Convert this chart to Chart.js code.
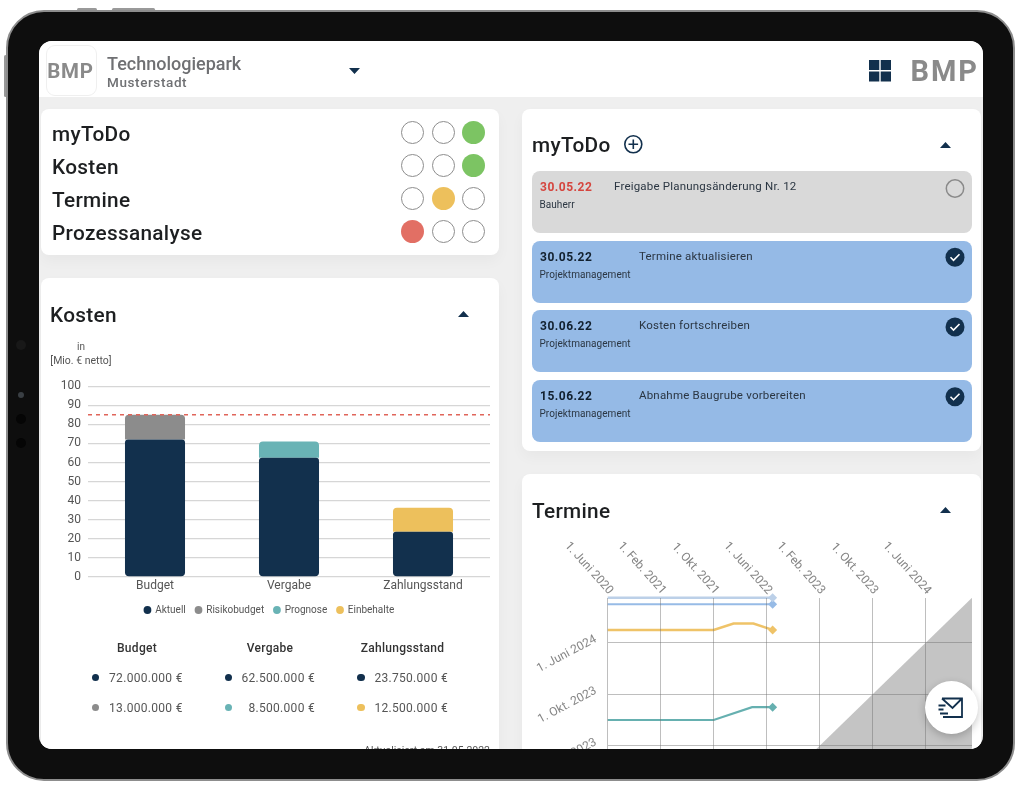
<!DOCTYPE html>
<html lang="de"><head><meta charset="utf-8"><title>Dashboard</title>
<script src="https://cdn.jsdelivr.net/npm/chart.js@4"></script>
<style>
html,body{margin:0;padding:0;background:#fff;width:1022px;height:791px;overflow:hidden;font-family:Roboto,sans-serif}
.a{position:absolute}
.t{position:absolute;white-space:nowrap;line-height:1}
#device{left:6px;top:10px;width:1005px;height:767px;border:2px solid #8d8d8d;border-radius:38px;background:#0e0e0e}
#screen{left:39px;top:41px;width:944px;height:708px;border-radius:13px 13px 13px 13px;overflow:hidden;background:#efefef}
#in{left:-39px;top:-41px;width:1022px;height:791px}
#texts{opacity:.999}
.panel{position:absolute;background:#fff;border-radius:8px;box-shadow:0 6px 14px rgba(0,0,0,.035)}
.card{position:absolute;left:532px;width:440px;height:62px;border-radius:8px}
.dot{position:absolute;border-radius:50%;box-sizing:border-box}
canvas{position:absolute;display:block}
</style></head><body>
<div class="a" style="left:77px;top:8px;width:20px;height:3px;background:#999;border-radius:2px"></div>
<div class="a" style="left:112px;top:8px;width:43px;height:3px;background:#999;border-radius:2px"></div>
<div class="a" style="left:4px;top:55px;width:3px;height:42px;background:#999;border-radius:2px"></div>
<div id="device" class="a"></div>
<div class="dot" style="left:18px;top:392px;width:6px;height:6px;background:#3a3f44"></div>
<div class="dot" style="left:16px;top:340px;width:10px;height:10px;background:#181818"></div>
<div class="dot" style="left:16px;top:414px;width:10px;height:10px;background:#050505"></div>
<div class="dot" style="left:16px;top:438px;width:10px;height:10px;background:#050505"></div>
<div id="screen" class="a"><div id="in" class="a">
  <div class="a" style="left:39px;top:41px;width:944px;height:56px;background:#fff"></div>
  <div class="a" style="left:46px;top:45px;width:49px;height:49px;border:1px solid #efefef;border-radius:9px"></div>
  <div class="panel" style="left:41px;top:109px;width:458px;height:146px"></div>
  <div class="panel" style="left:41px;top:278px;width:458px;height:500px"></div>
  <div class="panel" style="left:522px;top:109px;width:459px;height:342px"></div>
  <div class="panel" style="left:522px;top:474px;width:459px;height:320px"></div>
  <div class="card" style="top:171px;background:#d9d9d9"></div>
  <div class="card" style="top:240.5px;background:#95bae6"></div>
  <div class="card" style="top:310px;background:#95bae6"></div>
  <div class="card" style="top:380px;background:#95bae6"></div>
  <div id="texts"></div>
  <canvas id="kosten" width="458" height="253" style="left:40px;top:372px;width:458px;height:253px"></canvas>
  <canvas id="termine" width="455" height="246" style="left:522px;top:530px;width:455px;height:246px"></canvas>
  <svg class="a" style="left:0;top:0" width="1022" height="791" viewBox="0 0 1022 791" fill="none">
    <path d="M349 68h11l-5.500 6z M458 317l5.500-6 5.500 6z M940 148l5.500-6 5.500 6z M940 513l5.500-6 5.500 6z" fill="#12304d"/>
    <g fill="#12304d"><rect x="869" y="60" width="10.300" height="10"/><rect x="880.700" y="60" width="10.300" height="10"/><rect x="869" y="71.500" width="10.300" height="10"/><rect x="880.700" y="71.500" width="10.300" height="10"/></g>
    <circle cx="633.300" cy="144.300" r="8.500" stroke="#12304d" stroke-width="1.600"/>
    <path d="M628.500 144.300h9.600M633.300 139.500v9.600" stroke="#12304d" stroke-width="1.600"/>
    <circle cx="955" cy="188.500" r="8.700" stroke="#8a8a8a" stroke-width="1.500"/>
    <g id="checks"></g>
  </svg>
  <div class="dot" style="left:925px;top:681px;width:53px;height:53px;background:#fff;box-shadow:0 3px 8px rgba(0,0,0,.22)"></div>
  <svg class="a" style="left:938px;top:696px" width="26" height="24" viewBox="0 0 26 24" fill="none" stroke="#12304d" stroke-width="1.800">
    <path d="M4 2.500h20v18.500h-19M4 2.500l10.500 9.500 9.500-9.500"/><path d="M0.500 9.500h7M0.500 13.500h5M2 17.500h8" />
  </svg>
</div></div>
<script>
// ---- Kosten chart data (Mio. EUR) ----
const kostenCategories = ['Budget', 'Vergabe', 'Zahlungsstand'];
const aktuell = [72, 62.5, 23.75];
const risikobudget = [13, null, null];
const prognose = [null, 8.5, null];
const einbehalte = [null, null, 12.5];
const budgetLimit = 85;
const kostenTicks = [0, 10, 20, 30, 40, 50, 60, 70, 80, 90, 100];

// ---- Termine chart data (months since 1 June 2020) ----
const dateTickValues = [0, 8, 16, 24, 32, 40, 48];
const dateTickLabels = ['1. Juni 2020', '1. Feb. 2021', '1. Okt. 2021', '1. Juni 2022', '1. Feb. 2023', '1. Okt. 2023', '1. Juni 2024'];
const yTickValues = [32, 40, 48];
const diagonalX = [28, 55];
const diagonalY = [28, 55];
const milestoneAX = [0, 24.9];
const milestoneAY = [55, 55];
const milestoneBX = [0, 24.9];
const milestoneBY = [54, 54];
const milestoneCX = [0, 16, 19, 22, 24.9];
const milestoneCY = [50, 50, 51, 51, 50];
const milestoneDX = [0, 16, 21.8, 24.9];
const milestoneDY = [36, 36, 38, 38];

// ---- Page texts ----
const ampelRows = [['myToDo', 132.7, [0, 0, '#7cc463']], ['Kosten', 165.7, [0, 0, '#7cc463']], ['Termine', 198.3, [0, '#edc05c', 0]], ['Prozessanalyse', 231.3, ['#e26f64', 0, 0]]];
const ampelX = [412.7, 443, 473.3];
const tableHead = [['Budget', 137], ['Vergabe', 270], ['Zahlungsstand', 402.500]];
const tableRows = [
  [95.7, 182.7, '72.000.000 €', '#12304d', 677.7], [95.7, 182.7, '13.000.000 €', '#8c8c8c', 707.7],
  [228.3, 315, '62.500.000 €', '#12304d', 677.7], [228.3, 315, '8.500.000 €', '#69b3b5', 707.7],
  [361, 448, '23.750.000 €', '#12304d', 677.7], [361, 448, '12.500.000 €', '#edc05c', 707.7]];
const todoRows = [
  ['30.05.22', 'Freigabe Planungsänderung Nr. 12', 'Bauherr', 186.5, 614, '#d5453e'],
  ['30.05.22', 'Termine aktualisieren', 'Projektmanagement', 256.5, 639, '#12202e'],
  ['30.06.22', 'Kosten fortschreiben', 'Projektmanagement', 326, 639, '#12202e'],
  ['15.06.22', 'Abnahme Baugrube vorbereiten', 'Projektmanagement', 396, 639, '#12202e']];

const box = document.getElementById('texts');
function T(txt, x, y, css, align) {
  const d = document.createElement('div');
  d.className = 't'; d.textContent = txt;
  d.style.cssText = 'left:' + x + 'px;top:' + y + 'px;transform:translate(' + (align === 'r' ? '-100%' : align === 'c' ? '-50%' : '0') + ',-50%);' + css;
  box.appendChild(d);
}
function D(cx, cy, size, css) {
  const d = document.createElement('div');
  d.className = 'dot';
  d.style.cssText = 'left:' + (cx - size / 2) + 'px;top:' + (cy - size / 2) + 'px;width:' + size + 'px;height:' + size + 'px;' + css;
  box.appendChild(d);
}
const H = 'font-size:20.800px;font-weight:500;color:#1d1f21;letter-spacing:.3px;';
T('BMP', 70.500, 71, 'font-size:20.500px;font-weight:700;color:#8a8a8a;letter-spacing:.8px;', 'c');
T('Technologiepark', 107, 63.500, 'font-size:18px;font-weight:500;color:#6f7073;');
T('Musterstadt', 107, 83, 'font-size:13.500px;font-weight:500;color:#6f7073;letter-spacing:.6px;');
T('BMP', 979, 71, 'font-size:29px;font-weight:700;color:#8a8a8a;letter-spacing:2px;', 'r');
ampelRows.forEach(r => {
  T(r[0], 52, r[1] + 1.2, H);
  r[2].forEach((c, i) => D(ampelX[i], r[1], 23, c ? 'background:' + c : 'border:1px solid #8d8d8d;background:#fff'));
});
T('Kosten', 50, 315, H);
T('myToDo', 532, 144.5, H);
T('Termine', 532, 510.5, H);
T('in', 81, 347, 'font-size:10px;color:#555;', 'c');
T('[Mio. € netto]', 81, 360.500, 'font-size:10.500px;color:#555;', 'c');
tableHead.forEach(h => T(h[0], h[1], 648, 'font-size:12px;font-weight:500;color:#333;letter-spacing:.3px;', 'c'));
tableRows.forEach(r => { D(r[0], r[4], 7.500, 'background:' + r[3]); T(r[2], r[1], r[4], 'font-size:12px;color:#555;letter-spacing:.3px;', 'r'); });
T('Aktualisiert am 31.05.2022', 490, 751, 'font-size:10.500px;color:#555;', 'r');
todoRows.forEach(r => {
  T(r[0], 540, r[3], 'font-size:12px;font-weight:700;letter-spacing:.5px;color:' + r[5] + ';');
  T(r[1], r[4], r[3], 'font-size:11.500px;color:#2b3642;letter-spacing:.2px;');
  T(r[2], 539.500, r[3] + 18, 'font-size:10px;color:#2b3642;letter-spacing:.05px;');
});
[257.3, 327, 396.7].forEach(y => {
  document.getElementById('checks').innerHTML += '<circle cx="955" cy="' + y + '" r="9.500" fill="#12304d"/><path d="M950.500 ' + y + 'l3 3 6-6" stroke="#fff" stroke-width="1.600"/>';
});

Chart.defaults.font.family = 'Roboto, sans-serif';
Chart.defaults.animation = false;
Chart.defaults.responsive = false;
Chart.defaults.devicePixelRatio = 1;

const limitLine = {
  id: 'limitLine',
  afterDatasetsDraw(chart) {
    const ctx = chart.ctx, area = chart.chartArea, y = chart.scales.y.getPixelForValue(budgetLimit);
    ctx.save();
    ctx.strokeStyle = '#e0655a';
    ctx.lineWidth = 1.5;
    ctx.setLineDash([4, 4]);
    ctx.beginPath();
    ctx.moveTo(area.left, y);
    ctx.lineTo(area.right, y);
    ctx.stroke();
    ctx.restore();
  }
};
const barOpts = (color, order, radius) => ({ backgroundColor: color, order: order, borderRadius: radius, borderSkipped: false, barPercentage: 0.448, categoryPercentage: 1 });
new Chart(document.getElementById('kosten'), {
  type: 'bar',
  data: {
    labels: kostenCategories,
    datasets: [
      Object.assign({ label: 'Aktuell', data: aktuell }, barOpts('#12304d', 2, { topLeft: 3, topRight: 3, bottomLeft: 4, bottomRight: 4 })),
      Object.assign({ label: 'Risikobudget', data: risikobudget }, barOpts('#8c8c8c', 3, { topLeft: 4, topRight: 4, bottomLeft: 0, bottomRight: 0 })),
      Object.assign({ label: 'Prognose', data: prognose }, barOpts('#69b3b5', 3, { topLeft: 4, topRight: 4, bottomLeft: 0, bottomRight: 0 })),
      Object.assign({ label: 'Einbehalte', data: einbehalte }, barOpts('#edc05c', 3, { topLeft: 4, topRight: 4, bottomLeft: 0, bottomRight: 0 }))
    ]
  },
  options: {
    layout: { padding: { top: 6.6, right: 8, left: 9 } },
    plugins: {
      tooltip: { enabled: false },
      legend: { position: 'bottom', labels: { usePointStyle: true, pointStyle: 'circle', boxWidth: 5.5, boxHeight: 5.5, padding: 10, color: '#555', font: { size: 10 } } }
    },
    scales: {
      x: { stacked: true, grid: { display: false, drawTicks: false }, border: { display: false }, ticks: { color: '#555', font: { size: 12 }, padding: 2 }, afterFit: s => { s.height = 18; } },
      y: {
        stacked: true, min: 0, max: 100,
        afterBuildTicks: s => { s.ticks = kostenTicks.map(v => ({ value: v })); },
        grid: { color: '#d6d6d6', lineWidth: 1.3, drawTicks: false }, border: { display: false },
        ticks: { color: '#555', font: { size: 12 }, padding: 7 }, afterFit: s => { s.width = 39; }
      }
    }
  },
  plugins: [limitLine]
});

const rotatedLabels = {
  id: 'rotatedLabels',
  afterDraw(chart) {
    const ctx = chart.ctx, sx = chart.scales.x, sy = chart.scales.y, area = chart.chartArea;
    ctx.save();
    ctx.fillStyle = '#858585';
    ctx.font = '12px Roboto, sans-serif';
    ctx.textAlign = 'right';
    ctx.textBaseline = 'middle';
    dateTickValues.forEach((v, i) => {
      ctx.save();
      ctx.translate(sx.getPixelForValue(v) + 3, area.top - 5);
      ctx.rotate(48 * Math.PI / 180);
      ctx.fillText(dateTickLabels[i], 0, 0);
      ctx.restore();
    });
    yTickValues.forEach(v => {
      ctx.save();
      ctx.translate(area.left - 12, sy.getPixelForValue(v) - 4);
      ctx.rotate(-28 * Math.PI / 180);
      ctx.fillText(dateTickLabels[dateTickValues.indexOf(v)], 0, 0);
      ctx.restore();
    });
    ctx.restore();
  }
};
const toPts = (xs, ys) => xs.map((x, i) => ({ x: x, y: ys[i] }));
const lineDs = (label, xs, ys, color, width) => ({
  label: label, data: toPts(xs, ys), borderColor: color, backgroundColor: color, borderWidth: width, tension: 0, clip: false,
  pointStyle: 'rectRot', pointRadius: xs.map((_, i) => i === xs.length - 1 ? 4.5 : 0), pointBorderWidth: 0
});
new Chart(document.getElementById('termine'), {
  type: 'line',
  data: {
    datasets: [
      lineDs('Meilenstein 1', milestoneAX, milestoneAY, '#bcd0e8', 2.5),
      lineDs('Meilenstein 2', milestoneBX, milestoneBY, '#97bbe6', 2),
      lineDs('Meilenstein 3', milestoneCX, milestoneCY, '#efc368', 2.5),
      lineDs('Meilenstein 4', milestoneDX, milestoneDY, '#66b0b0', 2.2),
      { label: 'Diagonale', data: toPts(diagonalX, diagonalY), borderWidth: 0, pointRadius: 0, backgroundColor: '#c4c4c4', fill: 'start' }
    ]
  },
  options: {
    layout: { padding: { top: 67.7, right: 5, left: 85.7 } },
    plugins: { legend: { display: false }, tooltip: { enabled: false } },
    scales: {
      x: {
        type: 'linear', position: 'top', min: 0, max: 55,
        afterBuildTicks: s => { s.ticks = dateTickValues.map(v => ({ value: v })); },
        grid: { color: 'rgba(110,110,110,.45)', lineWidth: 1, drawTicks: false, z: 1 }, border: { display: false }, ticks: { display: false }
      },
      y: {
        type: 'linear', min: 28, max: 55,
        afterBuildTicks: s => { s.ticks = yTickValues.map(v => ({ value: v })); },
        grid: { color: 'rgba(110,110,110,.45)', lineWidth: 1, drawTicks: false, z: 1 }, border: { display: false },
        ticks: { display: false }
      }
    }
  },
  plugins: [rotatedLabels]
});
</script>
</body></html>
